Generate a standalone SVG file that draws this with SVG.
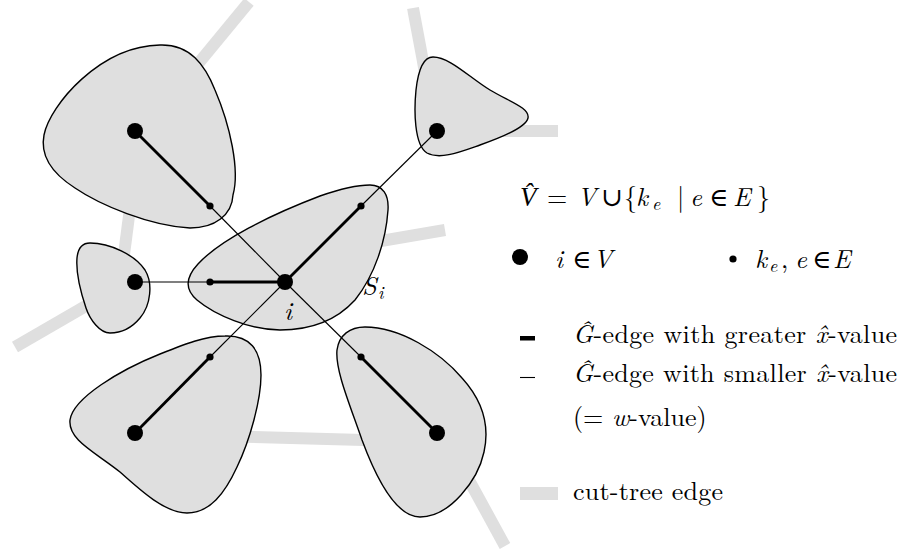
<svg xmlns="http://www.w3.org/2000/svg" width="905" height="556" viewBox="0 0 905 556">
<style>
.ct{stroke:#dfdfdf;stroke-width:12;fill:none;stroke-linecap:butt}
.blob{fill:#dfdfdf;stroke:#000;stroke-width:1.4}
.thin{stroke:#000;stroke-width:1.1;fill:none}
.thick{stroke:#000;stroke-width:2.8;fill:none}
.big{fill:#000}
.small{fill:#000}
</style>
<rect width="905" height="556" fill="#fff"/>
<g id="cut-tree">
<line class="ct" x1="160" y1="110" x2="249" y2="2"/>
<line class="ct" x1="133" y1="185" x2="122" y2="270"/>
<line class="ct" x1="110" y1="292" x2="15" y2="347"/>
<line class="ct" x1="432" y1="110" x2="413" y2="8"/>
<line class="ct" x1="470" y1="131" x2="558" y2="131"/>
<line class="ct" x1="340" y1="248" x2="445" y2="230"/>
<line class="ct" x1="200" y1="435.5" x2="400" y2="441"/>
<line class="ct" x1="447" y1="440" x2="505" y2="546"/>
</g>
<g id="sets">
<path id="set-tl" class="blob" d="M160,45 C190,44 205,65 215,90 C230,125 240,170 233,195 C232,215 215,228 190,228 C150,226 100,205 75,188 C50,172 40,155 44,135 C50,105 100,46 160,45 Z"/>
<path id="set-tr" class="blob" d="M433,57 C450,57 470,78 490,90 C510,102 530,108 528,118 C526,128 500,138 480,145 C460,152 440,160 427,153 C414,145 414,110 416,90 C418,72 423,57 433,57 Z"/>
<path id="set-l" class="blob" d="M90,243 C110,243 135,255 145,270 C153,283 151,305 140,318 C130,330 118,333 110,333 C100,333 90,320 86,308 C80,290 76,270 77,258 C78,248 83,243 90,243 Z"/>
<path id="set-i" class="blob" d="M370,185 C383,185 389,195 388,210 C386,240 375,275 355,300 C335,322 310,330 280,330 C250,330 215,315 197,300 C185,290 185,278 198,264 C220,240 270,215 320,196 C340,189 355,185 370,185 Z"/>
<path id="set-bl" class="blob" d="M225,336 C250,335 261,350 261,375 C261,400 250,440 237,467 C225,493 210,513 187,513 C165,513 140,490 120,472 C95,452 68,440 70,420 C73,398 120,370 160,354 C185,344 205,336 225,336 Z"/>
<path id="set-br" class="blob" d="M365,327 C400,327 440,352 462,378 C482,400 490,425 484,452 C478,480 450,517 420,517 C395,517 375,475 362,440 C350,405 335,370 337,350 C339,335 350,327 365,327 Z"/>
</g>
<g id="connectors">
<line class="thick" x1="135" y1="131" x2="210" y2="206"/>
<line class="thin" x1="210" y1="206" x2="285" y2="282"/>
<line class="thick" x1="285" y1="282" x2="361" y2="206"/>
<line class="thin" x1="361" y1="206" x2="437" y2="131"/>
<line class="thin" x1="135" y1="282" x2="210" y2="282"/>
<line class="thick" x1="210" y1="282" x2="285" y2="282"/>
<line class="thin" x1="285" y1="282" x2="210" y2="357"/>
<line class="thick" x1="210" y1="357" x2="135" y2="433"/>
<line class="thin" x1="285" y1="282" x2="361" y2="357"/>
<line class="thick" x1="361" y1="357" x2="437" y2="433"/>
</g>
<g id="node-i"><circle class="big" cx="285" cy="282" r="8"/></g>
<g id="node-tl"><circle class="big" cx="135" cy="131" r="8"/></g>
<g id="node-tr"><circle class="big" cx="437" cy="131" r="8"/></g>
<g id="node-l"><circle class="big" cx="135" cy="282" r="8"/></g>
<g id="node-bl"><circle class="big" cx="135" cy="433" r="8"/></g>
<g id="node-br"><circle class="big" cx="437" cy="433" r="8"/></g>
<g id="k-tl"><circle class="small" cx="210" cy="206" r="3.6"/></g>
<g id="k-tr"><circle class="small" cx="361" cy="206" r="3.6"/></g>
<g id="k-l"><circle class="small" cx="210" cy="282" r="3.6"/></g>
<g id="k-bl"><circle class="small" cx="210" cy="357" r="3.6"/></g>
<g id="k-br"><circle class="small" cx="361" cy="357" r="3.6"/></g>
<g id="labels" font-family="'Latin Modern Roman','Liberation Serif','DejaVu Serif',serif" font-size="26" fill="#000">
<text x="284" y="320" font-style="italic">i</text>
<text x="362" y="295" font-style="italic">S<tspan x="378" y="299" font-size="18">i</tspan></text>
</g>
<g id="legend" font-family="'Latin Modern Roman','Liberation Serif','DejaVu Serif',serif" font-size="26" fill="#000">
<text y="206"><tspan x="520" font-style="italic" font-family="'Liberation Serif',serif" font-size="27">V̂</tspan><tspan x="547">=</tspan><tspan x="577" font-style="italic">V</tspan><tspan x="601">∪</tspan><tspan x="624">{</tspan><tspan x="636" font-style="italic">k</tspan><tspan x="652" y="210" font-size="18" font-style="italic">e</tspan><tspan x="677" y="206">|</tspan><tspan x="690" font-style="italic">e</tspan><tspan x="709">∈</tspan><tspan x="733" font-style="italic">E</tspan><tspan x="757">}</tspan></text>
<circle cx="520" cy="257" r="8" fill="#000"/>
<text y="268"><tspan x="555" font-style="italic">i</tspan><tspan x="572">∈</tspan><tspan x="593" font-style="italic">V</tspan></text>
<circle cx="733" cy="259" r="3.6" fill="#000"/>
<text y="268"><tspan x="755" font-style="italic">k</tspan><tspan x="769" y="272" font-size="18" font-style="italic">e</tspan><tspan x="781" y="268">,</tspan><tspan x="795" font-style="italic">e</tspan><tspan x="812">∈</tspan><tspan x="833" font-style="italic">E</tspan></text>
<rect x="520" y="336" width="15" height="4.5" fill="#000"/>
<text x="573" y="343" textLength="324" lengthAdjust="spacing"><tspan font-style="italic">Ĝ</tspan>-edge with greater <tspan font-style="italic">x̂</tspan>-value</text>
<line x1="520" y1="377.5" x2="535" y2="377.5" stroke="#000" stroke-width="1.1"/>
<text x="573" y="382" textLength="324" lengthAdjust="spacing"><tspan font-style="italic">Ĝ</tspan>-edge with smaller <tspan font-style="italic">x̂</tspan>-value</text>
<text x="573" y="426">(= <tspan font-style="italic">w</tspan>-value)</text>
<rect x="520" y="487" width="38" height="13" fill="#dfdfdf"/>
<text x="573" y="500" textLength="150" lengthAdjust="spacing">cut-tree edge</text>
</g>
</svg>
